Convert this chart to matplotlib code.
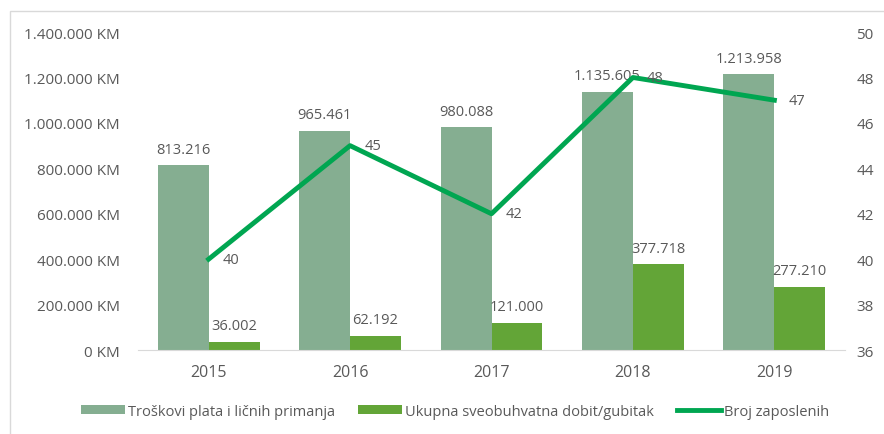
import matplotlib.pyplot as plt
import matplotlib.patches as mpatches
import matplotlib.ticker as mticker
import numpy as np

plt.rcParams['font.family'] = ['Open Sans', 'DejaVu Sans']

years = ['2015', '2016', '2017', '2018', '2019']
troskovi = [813216, 965461, 980088, 1135605, 1213958]
dobit = [36002, 62192, 121000, 377718, 277210]
zaposleni = [40, 45, 42, 48, 47]

c_light = '#85AE91'
c_dark = '#63A537'
c_line = '#00A651'
c_text = '#595959'

def fmt(v):
    return f'{v:,}'.replace(',', '.')

fig = plt.figure(figsize=(8.84, 4.35), dpi=100)
ax = fig.add_axes([0.156, 0.193, 0.8, 0.731])
ax2 = ax.twinx()

x = np.arange(len(years))
w = 0.36
ax.bar(x - w / 2, troskovi, w, color=c_light, label='Troškovi plata i ličnih primanja', zorder=2)
ax.bar(x + w / 2, dobit, w, color=c_dark, label='Ukupna sveobuhvatna dobit/gubitak', zorder=2)

for xi, v in zip(x, troskovi):
    ax.text(xi - w / 2, v + 38000, fmt(v), ha='center', va='bottom', fontsize=10.5, color=c_text)
for xi, v in zip(x, dobit):
    ax.text(xi + w / 2, v + 38000, fmt(v), ha='center', va='bottom', fontsize=10.5, color=c_text)

ax.set_ylim(0, 1400000)
ax.set_xlim(-0.5, 4.5)
ax.set_yticks(np.arange(0, 1400001, 200000))
ax.yaxis.set_major_formatter(mticker.FuncFormatter(lambda v, p: fmt(int(v)) + ' KM'))
ax.set_xticks(x)
ax.set_xticklabels(years)

ax2.plot(x, zaposleni, color=c_line, lw=3.5, label='Broj zaposlenih', zorder=3)
for xi, v in zip(x, zaposleni):
    ax2.text(xi + 0.1, v, str(v), ha='left', va='center', fontsize=10.5, color=c_text)
ax2.set_ylim(36, 50)
ax2.set_yticks(np.arange(36, 51, 2))

for a in (ax, ax2):
    for s in a.spines.values():
        s.set_visible(False)
    a.tick_params(length=0, colors=c_text, labelsize=11)
ax.spines['bottom'].set_visible(True)
ax.spines['bottom'].set_color('#D9D9D9')
ax.tick_params(axis='y', pad=13)
ax.tick_params(axis='x', pad=10, labelsize=11.5)
ax2.tick_params(axis='y', pad=8)

h1, l1 = ax.get_legend_handles_labels()
h2, l2 = ax2.get_legend_handles_labels()
fig.legend(h1 + h2, l1 + l2, loc='center', bbox_to_anchor=(0.515, 0.052), ncol=3,
           frameon=False, fontsize=10.5, labelcolor=c_text, handlelength=3.0,
           handleheight=0.6, handletextpad=0.2, columnspacing=1.6)

fig.patches.append(mpatches.Rectangle((0.011, -0.01), 1.0, 0.983, transform=fig.transFigure,
                                      fill=False, edgecolor='#D9D9D9', lw=1))

fig.savefig('out.png', dpi=100)
